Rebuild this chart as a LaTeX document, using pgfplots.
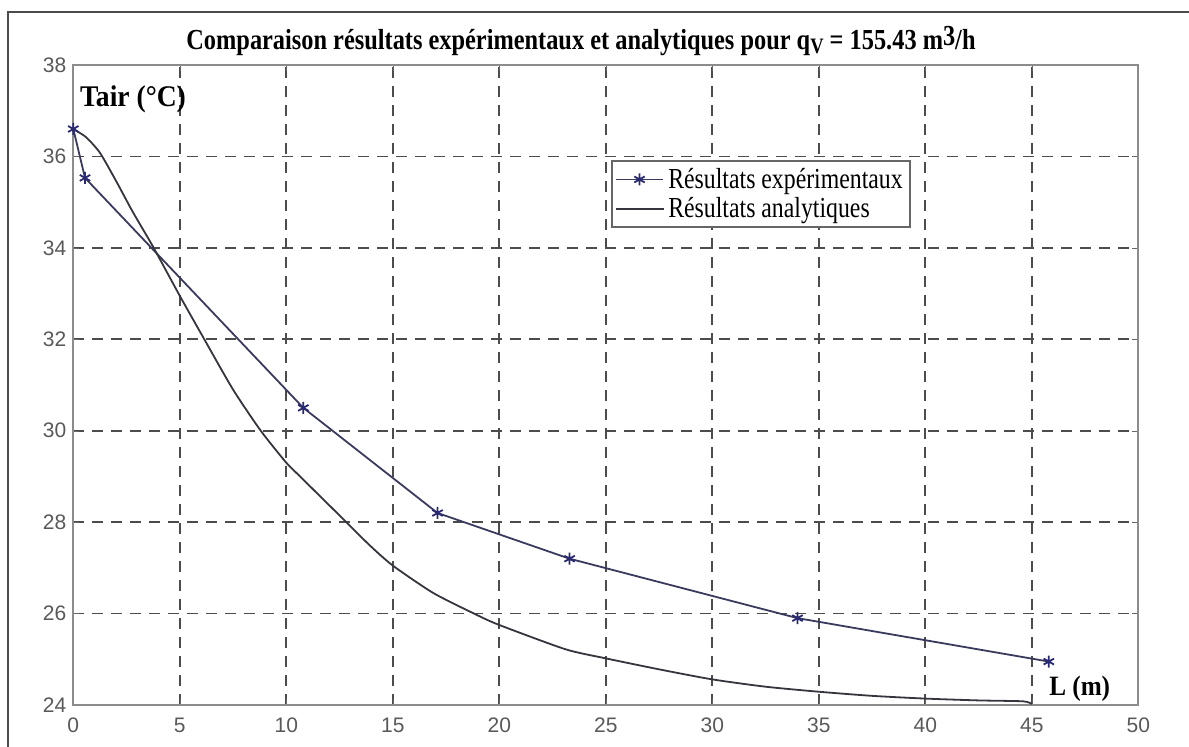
\documentclass[border=0pt]{standalone}
\usepackage{fontspec}
\setmainfont{Liberation Serif}
\newfontfamily\ticksf{Liberation Sans}
\usepackage{graphicx}
\usepackage{pgfplots}
\pgfplotsset{compat=1.18}
\definecolor{expcol}{HTML}{3A3A5E}
\definecolor{markcol}{HTML}{2A2A72}
\definecolor{anacol}{HTML}{35353D}
\newcommand{\legtext}[1]{\scalebox{0.82}[1]{\fontsize{14.5}{16}\selectfont #1}}
\begin{document}
\begin{tikzpicture}
\path[use as bounding box] (-36.65pt,-21pt) rectangle ++(594.5pt,373.5pt);
\draw[line width=1pt, color=black!70] (-32.5pt,-21pt) -- (-32.5pt,346.35pt) -- (557.85pt,346.35pt);
\begin{axis}[
  at={(0,0)}, anchor=south west,
  scale only axis, width=532.5pt, height=320pt,
  xmin=0, xmax=50, ymin=24, ymax=38,
  xtick={0,5,...,50}, ytick={24,26,...,38},
  grid=major,
  major grid style={dash pattern=on 5.5pt off 4pt, color=black!70, line width=0.8pt},
  axis line style={color=black!45, line width=0.8pt},
  tick align=inside, major tick length=3pt, tick style={color=black!60},
  ticklabel style={font=\ticksf\fontsize{10.5}{12}\selectfont, color=black!65},
  /pgf/number format/assume math mode=true,
  xticklabel style={yshift=-3pt},
  title={\scalebox{0.84}[1]{\fontsize{14.5}{16}\selectfont\bfseries Comparaison résultats expérimentaux et analytiques pour q\raisebox{-0.35ex}{\fontsize{11}{12}\selectfont V} = 155.43 m\raisebox{0.3ex}{3}/h}},
  title style={at={(0.4767,1)}, anchor=base, yshift=1.85pt},
  legend style={at={(axis cs:25.24,35.92)}, anchor=north west, draw=black!60, line width=0.8pt,
    inner sep=1.5pt, row sep=-1pt, fill=white},
  legend cell align=left,
  legend image code/.code={\draw[mark repeat=2,mark phase=2,#1] plot coordinates {(0cm,0cm) (0.42cm,0cm) (0.84cm,0cm)};},
]
\addplot[color=expcol, line width=0.9pt, mark=asterisk, mark size=3pt, mark options={color=markcol, line width=0.9pt}]
coordinates {
(0,36.6) (0.55,35.53) (10.8,30.5) (17.1,28.2) (23.3,27.2) (34.0,25.9) (45.8,24.95)
};
\addlegendentry{\legtext{Résultats expérimentaux}}
\addplot[color=anacol, line width=0.9pt, smooth, tension=0.4, mark=none]
coordinates {
(0,36.6) (0.6,36.42) (1.25,36.08) (2.0,35.47) (2.8,34.78) (3.75,34.02) (5,32.95) (6.15,32.0)
(7.5,30.9) (8.8,30.0) (10,29.3) (10.6,29.02) (12.6,28.1) (13.9,27.5) (15,27.05)
(16.9,26.45) (18.9,25.98) (20,25.75) (23.1,25.22) (25,25.02) (27.5,24.78) (30,24.56)
(32.5,24.4) (35,24.29) (37.5,24.2) (40,24.14) (42.5,24.1) (44.6,24.08) (45,24.02)
};
\addlegendentry{\legtext{Résultats analytiques}}
\node[anchor=west, inner sep=0pt] at (axis cs:0.3,37.25) {\scalebox{0.92}[1]{\fontsize{15}{17}\selectfont\bfseries Tair (°C)}};
\node[anchor=center, inner sep=0pt] at (axis cs:47.25,24.35) {\scalebox{0.9}[1]{\fontsize{14}{16}\selectfont\bfseries L (m)}};
\end{axis}
\end{tikzpicture}
\end{document}
